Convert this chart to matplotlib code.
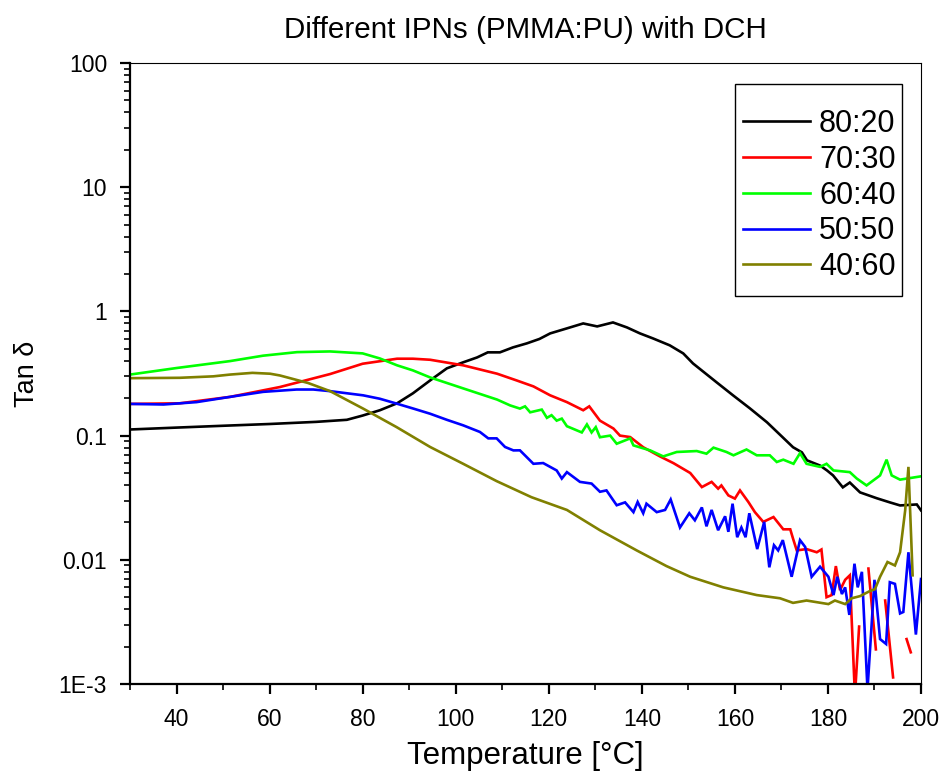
import numpy as np
import matplotlib
matplotlib.use("Agg")
import matplotlib.pyplot as plt
from matplotlib.patches import Rectangle
from matplotlib.ticker import FixedLocator, FuncFormatter, LogLocator, MultipleLocator

plt.rcParams['font.family'] = ['Liberation Sans', 'DejaVu Sans']

nan = np.nan

title = "Different IPNs (PMMA:PU) with DCH"
xlabel = "Temperature [°C]"
ylabel = "Tan δ"
labels = ["80:20", "70:30", "60:40", "50:50", "40:60"]
colors = ["#000000", "#FF0000", "#00FF00", "#0000FF", "#808000"]

black_T = [30, 40, 50, 60, 70, 76.6, 80, 83.7, 87.4, 90.8, 94.5, 98.1, 101.6, 104.6, 106.9,
           109.5, 112.3, 115.3, 118, 120.3, 123.9, 127.4, 130.4, 133.8, 136.8, 139.6, 142.4,
           146, 148.9, 151, 156.1, 159.6, 163.2, 166.9, 170.3, 172.5, 174.4, 175.5, 178.3,
           179.8, 181.1, 183.2, 184.7, 186.9, 190.5, 193.3, 195.5, 199.1, 200]
black_v = [0.112, 0.116, 0.120, 0.124, 0.129, 0.134, 0.145, 0.160, 0.182, 0.219, 0.278, 0.348,
           0.389, 0.426, 0.468, 0.468, 0.513, 0.553, 0.60, 0.665, 0.730, 0.80, 0.757, 0.815,
           0.743, 0.665, 0.606, 0.533, 0.459, 0.381, 0.268, 0.211, 0.166, 0.128, 0.0967,
           0.0806, 0.0733, 0.0632, 0.0574, 0.0524, 0.0478, 0.0383, 0.0419, 0.0349, 0.0313,
           0.0290, 0.0274, 0.0279, 0.0250]

red_T = [30, 40.7, 51.5, 62.2, 73, 80, 87.4, 90.8, 94.5, 101.6, 108.9, 113.1, 116.7, 120.3,
         123.9, 127.4, 128.7, 131, 133.9, 135.3, 137.5, 140.3, 143.9, 146.8, 150.4, 152.9,
         155, 156.4, 157.1, 158.6, 160, 161.1, 162.9, 164.3, 166.1, 168.3, 170.4, 171.9,
         172.5, 173.3, 175.4, 177.6, 178.6, 179.7, 180.8, 181.7, 182.6, 183.7, 184.7, 185.8,
         186.7, 187.7, 188.7, 190.3, 191.3, 192.3, 194, 195.5, 196.9, 197.8]
red_v = [0.180, 0.182, 0.205, 0.246, 0.313, 0.379, 0.416, 0.416, 0.408, 0.368, 0.315, 0.278,
         0.249, 0.211, 0.186, 0.160, 0.172, 0.132, 0.114, 0.100, 0.0973, 0.0806, 0.0680,
         0.0600, 0.0500, 0.0385, 0.0424, 0.0374, 0.0397, 0.0330, 0.0311, 0.0362, 0.0292,
         0.0242, 0.0202, 0.0221, 0.0176, 0.0176, 0.0148, 0.0119, 0.0122, 0.0115, 0.0121,
         0.0050, 0.0052, 0.0089, 0.0057, 0.0069, 0.0075, 0.0008, 0.0029, nan, 0.0085,
         0.0019, nan, 0.0047, 0.00113, nan, 0.0023, 0.0018]

green_T = [30, 40, 51.5, 58.6, 65.9, 73, 80, 83.7, 87.4, 90.8, 94.5, 101.6, 108.9, 111.7,
           113.8, 114.9, 116, 118.5, 119.6, 120.6, 121.7, 122.8, 123.9, 127.1, 128.2, 129.2,
           130.1, 131, 133.2, 134.6, 137.5, 138.2, 141.8, 144.6, 147.5, 151.8, 153.9, 155.4,
           158.2, 159.7, 162.5, 164.7, 167.5, 169, 170.4, 172.6, 174, 175.4, 178.3, 179.7,
           181.2, 184.7, 186.2, 188.3, 191.2, 192.6, 193.7, 195.5, 200]
green_v = [0.310, 0.350, 0.398, 0.440, 0.470, 0.476, 0.459, 0.418, 0.368, 0.335, 0.294, 0.240,
           0.195, 0.175, 0.165, 0.172, 0.154, 0.162, 0.139, 0.146, 0.132, 0.137, 0.119, 0.106,
           0.123, 0.106, 0.117, 0.097, 0.100, 0.086, 0.095, 0.0834, 0.076, 0.068, 0.0738,
           0.0751, 0.0715, 0.080, 0.0738, 0.0694, 0.0773, 0.0694, 0.0694, 0.0613, 0.0640,
           0.0593, 0.0722, 0.0593, 0.0560, 0.0593, 0.0524, 0.0508, 0.0451, 0.0397, 0.0478,
           0.0640, 0.0478, 0.0442, 0.0470]

blue_T = [30, 37.2, 44.3, 51.5, 58.6, 65.8, 69.4, 73, 80.1, 83.7, 87.3, 90.9, 94.5, 98.1,
          101.6, 105.2, 107, 108.8, 110.6, 112.4, 113.8, 116.7, 118.8, 121.7, 122.8, 123.9,
          126.7, 129.2, 131, 132.4, 134.6, 136.4, 138.2, 139.1, 140.3, 141, 143.2, 145,
          146.2, 148.2, 150.2, 151.4, 152.9, 153.9, 155, 156.4, 157.9, 158.6, 159.5, 160.5,
          161.4, 162.3, 163.1, 164.8, 166.3, 167.4, 168.4, 169.3, 170.3, 172.2, 174, 175.1,
          176.5, 178.3, 180.1, 181.2, 182, 183, 183.7, 184.6, 185.7, 186.4, 187.3, 188.5,
          190, 191.2, 192.5, 193.3, 194.4, 195.5, 196.2, 197.3, 198.9, 200]
blue_v = [0.180, 0.178, 0.186, 0.205, 0.225, 0.235, 0.235, 0.228, 0.211, 0.198, 0.181, 0.165,
          0.150, 0.134, 0.121, 0.107, 0.095, 0.095, 0.081, 0.0760, 0.0761, 0.0593, 0.0601,
          0.0524, 0.0451, 0.0508, 0.0424, 0.0411, 0.0353, 0.0362, 0.0275, 0.0290, 0.0242,
          0.0292, 0.0237, 0.0283, 0.0242, 0.0252, 0.0306, 0.0182, 0.0237, 0.0208, 0.0264,
          0.0186, 0.0252, 0.0173, 0.0224, 0.0168, 0.0283, 0.0152, 0.0182, 0.0152, 0.0237,
          0.0122, 0.0202, 0.0087, 0.0131, 0.0119, 0.0144, 0.0073, 0.0144, 0.0127, 0.0073,
          0.0088, 0.0073, 0.0052, 0.0073, 0.0053, 0.0060, 0.0036, 0.0093, 0.0060, 0.0080,
          0.0009, 0.0069, 0.0023, 0.0021, 0.0066, 0.0064, 0.0037, 0.0038, 0.0115, 0.0025,
          0.0070]

olive_T = [30, 40.7, 47.9, 51.5, 56.3, 60.1, 62.2, 64.4, 68.3, 73, 80.1, 87.3, 94.5, 101.6,
           108.8, 116.3, 123.9, 131, 138.9, 145.3, 150.4, 157.5, 164.7, 169.7, 172.5, 175.4,
           180.1, 181.5, 183.7, 185.1, 186.9, 189, 190.1, 191.2, 192.8, 194.4, 195.5, 196.6,
           197.3, 198.2]
olive_v = [0.290, 0.292, 0.300, 0.310, 0.320, 0.315, 0.305, 0.290, 0.265, 0.228, 0.165, 0.117,
           0.081, 0.0593, 0.0430, 0.0319, 0.0252, 0.0173, 0.0119, 0.0089, 0.0073, 0.0060,
           0.0052, 0.0049, 0.0045, 0.0047, 0.0044, 0.0047, 0.0044, 0.0049, 0.0051, 0.0056,
           0.0058, 0.0073, 0.0096, 0.0090, 0.0115, 0.0250, 0.0560, 0.0075]

series = [(black_T, black_v), (red_T, red_v), (green_T, green_v), (blue_T, blue_v), (olive_T, olive_v)]

fig = plt.figure(figsize=(9.43, 7.78), dpi=100)
ax = fig.add_axes([130 / 943, 1 - 684 / 778, (921 - 130) / 943, (684 - 63) / 778])

for (T, v), lab, c in zip(series, labels, colors):
    ax.plot(T, v, color=c, lw=1.9, label=lab, solid_joinstyle='miter')

ax.set_yscale('log', nonpositive='mask')
ax.set_xlim(30, 200)
ax.set_ylim(1e-3, 100)

ax.xaxis.set_major_locator(MultipleLocator(20))
ax.xaxis.set_minor_locator(MultipleLocator(10))
ax.yaxis.set_major_locator(FixedLocator([1e-3, 1e-2, 1e-1, 1, 10, 100]))
ax.yaxis.set_minor_locator(LogLocator(base=10, subs=np.arange(2, 10)))


def yfmt(val, pos):
    m = {1e-3: "1E-3", 1e-2: "0.01", 1e-1: "0.1", 1: "1", 10: "10", 100: "100"}
    for k, s in m.items():
        if abs(val - k) / k < 1e-6:
            return s
    return ""


ax.yaxis.set_major_formatter(FuncFormatter(yfmt))
ax.yaxis.set_minor_formatter(FuncFormatter(lambda v, p: ""))

ax.tick_params(axis='both', which='major', direction='out', length=7.5, width=1.6,
               labelsize=16.5, top=False, right=False)
ax.tick_params(axis='both', which='minor', direction='out', length=4, width=1.2,
               top=False, right=False)
ax.tick_params(axis='x', pad=10)
ax.tick_params(axis='y', pad=9)

ax.spines['left'].set_linewidth(1.6)
ax.spines['bottom'].set_linewidth(1.6)
ax.spines['top'].set_linewidth(0.8)
ax.spines['right'].set_linewidth(0.8)

ax.set_xlabel(xlabel, fontsize=22.5, labelpad=7)
ax.set_ylabel(ylabel, fontsize=19.5)
ax.yaxis.set_label_coords(-0.114, 0.50)
ax.set_title(title, fontsize=21.3, pad=18)

# legend entries without frame; frame drawn as a separate box
leg = ax.legend(loc='upper right', bbox_to_anchor=(0.968, 0.926),
                fontsize=22, frameon=False,
                handlelength=2.2, handletextpad=0.3, labelspacing=0.19,
                borderpad=0.0, borderaxespad=0.0)
frame = Rectangle((0.7649, 0.6248), 0.9760 - 0.7649, 0.9662 - 0.6248,
                  transform=ax.transAxes, fill=False, edgecolor='black', lw=1.0,
                  zorder=5)
ax.add_patch(frame)

fig.savefig("out.png", dpi=100)
